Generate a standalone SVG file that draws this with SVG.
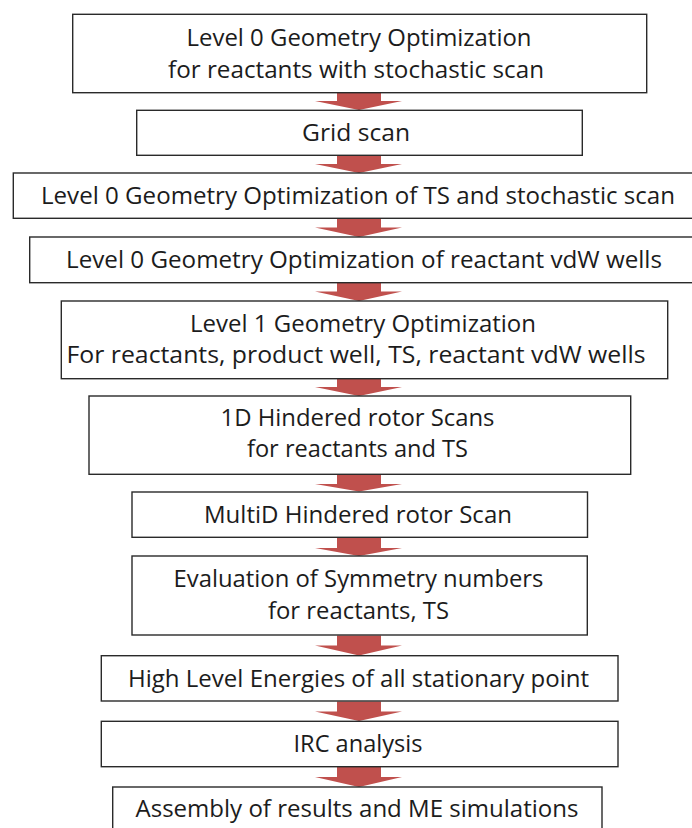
<svg xmlns="http://www.w3.org/2000/svg" width="692" height="828" viewBox="0 0 692 828">
<style>
.box{fill:#fff;stroke:#2a2a2a;stroke-width:1.4}
.t{font-family:"Open Sans","Noto Sans","Liberation Sans",sans-serif;font-size:22.8px;fill:#1c1c1c;text-anchor:middle;font-variant-ligatures:none}
.arr{fill:#c0504d}
</style>
<rect width="692" height="828" fill="#fff"/>
<g id="connectors">
<polygon class="arr" points="337,93 381,93 381,101 402,101 359,110 315,101 337,101"/>
<polygon class="arr" points="337,155.5 381,155.5 381,164 402,164 359,173 315,164 337,164"/>
<polygon class="arr" points="337,218.5 381,218.5 381,227.5 402,227.5 359,237 315,227.5 337,227.5"/>
<polygon class="arr" points="337,283 381,283 381,291.5 402,291.5 359,301 315,291.5 337,291.5"/>
<polygon class="arr" points="337,379 381,379 381,387 402,387 359,396 315,387 337,387"/>
<polygon class="arr" points="337,475 381,475 381,484 402,484 359,491.5 315,484 337,484"/>
<polygon class="arr" points="337,538 381,538 381,548 402,548 359,556 315,548 337,548"/>
<polygon class="arr" points="337,635.5 381,635.5 381,645.5 402,645.5 359,655.5 315,645.5 337,645.5"/>
<polygon class="arr" points="337,701.5 381,701.5 381,711.5 402,711.5 359,721 315,711.5 337,711.5"/>
<polygon class="arr" points="337,767 381,767 381,777 402,777 359,787 315,777 337,777"/>
</g>
<g id="n1"><rect class="box" x="72.7" y="14.3" width="574" height="78.4"/>
<text class="t" x="359" y="45.5" textLength="345" lengthAdjust="spacingAndGlyphs">Level 0 Geometry Optimization</text>
<text class="t" x="356" y="77.5" textLength="376" lengthAdjust="spacingAndGlyphs">for reactants with stochastic scan</text></g>
<g id="n2"><rect class="box" x="136.7" y="110.3" width="445.6" height="45"/>
<text class="t" x="356" y="141" textLength="108" lengthAdjust="spacingAndGlyphs">Grid scan</text></g>
<g id="n3"><rect class="box" x="13.3" y="173" width="694" height="45.3"/>
<text class="t" x="358" y="204" textLength="634" lengthAdjust="spacingAndGlyphs">Level 0 Geometry Optimization of TS and stochastic scan</text></g>
<g id="n4"><rect class="box" x="29.7" y="237" width="670" height="45.7"/>
<text class="t" x="364" y="268.2" textLength="596" lengthAdjust="spacingAndGlyphs">Level 0 Geometry Optimization of reactant vdW wells</text></g>
<g id="n5"><rect class="box" x="61.3" y="301" width="606.4" height="77.7"/>
<text class="t" x="363" y="331.6" textLength="346" lengthAdjust="spacingAndGlyphs">Level 1 Geometry Optimization</text>
<text class="t" x="356" y="363" textLength="579" lengthAdjust="spacingAndGlyphs">For reactants, product well, TS, reactant vdW wells</text></g>
<g id="n6"><rect class="box" x="89" y="396" width="541.7" height="78.3"/>
<text class="t" x="357.5" y="426" textLength="274" lengthAdjust="spacingAndGlyphs">1D Hindered rotor Scans</text>
<text class="t" x="357.5" y="457" textLength="221" lengthAdjust="spacingAndGlyphs">for reactants and TS</text></g>
<g id="n7"><rect class="box" x="132" y="492" width="455.5" height="45.3"/>
<text class="t" x="358" y="522.8" textLength="308" lengthAdjust="spacingAndGlyphs">MultiD Hindered rotor Scan</text></g>
<g id="n8"><rect class="box" x="132" y="556" width="455.3" height="79"/>
<text class="t" x="358.5" y="587" textLength="370" lengthAdjust="spacingAndGlyphs">Evaluation of Symmetry numbers</text>
<text class="t" x="358.5" y="619" textLength="181" lengthAdjust="spacingAndGlyphs">for reactants, TS</text></g>
<g id="n9"><rect class="box" x="101.3" y="655.7" width="516.7" height="45.3"/>
<text class="t" x="358.5" y="686.5" textLength="461" lengthAdjust="spacingAndGlyphs">High Level Energies of all stationary point</text></g>
<g id="n10"><rect class="box" x="101.3" y="721.3" width="516.7" height="45.4"/>
<text class="t" x="358" y="752.2" textLength="129" lengthAdjust="spacingAndGlyphs">IRC analysis</text></g>
<g id="n11"><rect class="box" x="112.7" y="787" width="489.3" height="45"/>
<text class="t" x="357" y="817" textLength="443" lengthAdjust="spacingAndGlyphs">Assembly of results and ME simulations</text></g>
</svg>
